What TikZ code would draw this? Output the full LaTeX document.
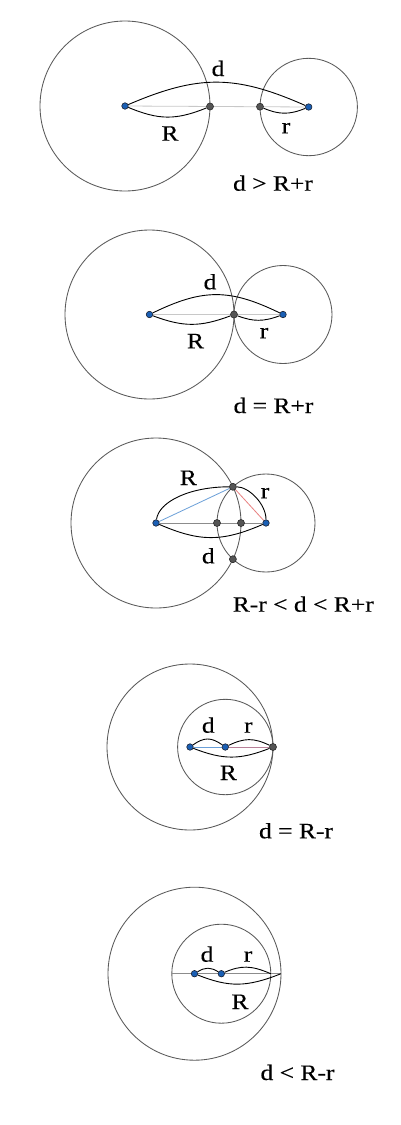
\documentclass[tikz,border=0pt]{standalone}
\usepackage{fontspec}
\setmainfont{Liberation Serif}[FakeStretch=1.16,FakeBold=0.3]
\usetikzlibrary{calc}
\pgfdeclarelayer{bg}
\pgfsetlayers{bg,main}
\definecolor{circgray}{HTML}{5A5A5A}
\definecolor{lightaxis}{HTML}{C8C8C8}
\definecolor{darkaxis}{HTML}{8C8C8C}
\definecolor{blueline}{HTML}{6A9FD8}
\definecolor{redline}{HTML}{E88080}
\definecolor{purpleline}{HTML}{B88098}
\definecolor{dotblue}{HTML}{1A5FB4}
\definecolor{dotblueedge}{HTML}{1A2233}
\definecolor{dotgray}{HTML}{555555}
\definecolor{dotgrayedge}{HTML}{2A2A2A}
\tikzset{
  circ/.style={draw=circgray, line width=0.85pt},
  arcline/.style={draw=black, line width=0.9pt},
  lightax/.style={draw=lightaxis, line width=0.8pt},
  darkax/.style={draw=darkaxis, line width=0.8pt},
  bdot/.style={circle, fill=dotblue, draw=dotblueedge, line width=0.6pt, inner sep=0pt, minimum size=6.5pt},
  gdot/.style={circle, fill=dotgray, draw=dotgrayedge, line width=0.6pt, inner sep=0pt, minimum size=7pt},
  lbl/.style={anchor=base, inner sep=0pt, font=\fontsize{22}{26}\selectfont},
  bumpto/.style n args={4}{insert path={.. controls ($(#1)!0.4!(#2)!#3!#4:(#2)$) and ($(#1)!0.6!(#2)!#3!#4:(#2)$) .. (#2)}},
}
\begin{document}
\begin{tikzpicture}[x=1pt,y=-1pt]
\begin{pgfonlayer}{bg}
\useasboundingbox[fill=white] (0,0) rectangle (401,1125);
\end{pgfonlayer}

% ---------- Panel 1: d > R+r
\node[bdot] (c11) at (125,106) {};
\node[bdot] (c12) at (308.7,107) {};
\node[gdot] (p11) at (210,106.5) {};
\node[gdot] (p12) at (260,106.7) {};
\begin{pgfonlayer}{bg}
\draw[circ] (c11.center) circle[radius=85pt];
\draw[circ] (c12.center) circle[radius=48.7pt];
\draw[lightax] (c11) -- (c12);
\draw[arcline] (c11) [bumpto={c11}{c12}{32pt}{90}];
\draw[arcline] (c11) [bumpto={c11}{p11}{14pt}{-90}];
\draw[arcline] (p12) [bumpto={p12}{c12}{8pt}{-90}];
\end{pgfonlayer}
\node[lbl] (l1d) at (218,76) {d};
\node[lbl] (l1R) at (170,140.7) {R};
\node[lbl] (l1r) at (286,133.3) {r};
\node[lbl] (l1) at (273,190.7) {d > R+r};

% ---------- Panel 2: d = R+r
\node[bdot] (c21) at (149.5,314.5) {};
\node[bdot] (c22) at (283,314.5) {};
\node[gdot] (t2) at (234,314.5) {};
\begin{pgfonlayer}{bg}
\draw[circ] (c21.center) circle[radius=84.5pt];
\draw[circ] (c22.center) circle[radius=49pt];
\draw[lightax] (c21) -- (c22);
\draw[arcline] (c21) [bumpto={c21}{c22}{26pt}{90}];
\draw[arcline] (c21) [bumpto={c21}{t2}{12.7pt}{-90}];
\draw[arcline] (t2) [bumpto={t2}{c22}{7.3pt}{-90}];
\end{pgfonlayer}
\node[lbl] (l2d) at (210,289.3) {d};
\node[lbl] (l2R) at (195.5,348.3) {R};
\node[lbl] (l2r) at (264,338.3) {r};
\node[lbl] (l2) at (273.5,413) {d = R+r};

% ---------- Panel 3: R-r < d < R+r
\node[bdot] (c31) at (156,523) {};
\node[bdot] (c32) at (266,523) {};
\node[gdot] (pt3) at (232.9,486.8) {};
\node[gdot] (pb3) at (232.9,559.2) {};
\node[gdot] (q31) at (217,523) {};
\node[gdot] (q32) at (241,523) {};
\begin{pgfonlayer}{bg}
\draw[circ] (c31.center) circle[radius=85pt];
\draw[circ] (c32.center) circle[radius=49pt];
\draw[darkax] (c31) -- (c32);
\draw[draw=blueline, line width=0.8pt] (c31) -- (pt3);
\draw[draw=redline, line width=0.8pt] (pt3) -- (c32);
\draw[arcline] (c31) .. controls ($(c31)+(3,-22)$) and ($(pt3)+(-42,0)$) .. (pt3);
\draw[arcline] (pt3) .. controls ($(pt3)+(16,0)$) and ($(c32)+(0,-19)$) .. (c32);
\draw[arcline] (c31) [bumpto={c31}{c32}{19pt}{-90}];
\end{pgfonlayer}
\node[lbl] (l3R) at (188.3,485) {R};
\node[lbl] (l3r) at (265,498.3) {r};
\node[lbl] (l3d) at (208.3,563.3) {d};
\node[lbl] (l3) at (303.3,611.7) {R-r < d < R+r};

% ---------- Panel 4: d = R-r
\node[bdot] (c41) at (190,747) {};
\node[bdot] (c42) at (225.3,747) {};
\node[gdot] (t4) at (273,747) {};
\begin{pgfonlayer}{bg}
\draw[circ] (c41.center) circle[radius=83pt];
\draw[circ] (c42.center) circle[radius=47.7pt];
\draw[draw=blueline, line width=0.9pt] (c41) -- (c42);
\draw[draw=purpleline, line width=0.9pt] (c42) -- (t4);
\draw[arcline] (c41) [bumpto={c41}{c42}{10pt}{90}];
\draw[arcline] (c42) [bumpto={c42}{t4}{9.3pt}{90}];
\draw[arcline] (c41) [bumpto={c41}{t4}{13pt}{-90}];
\end{pgfonlayer}
\node[lbl] (l4d) at (208.3,732.7) {d};
\node[lbl] (l4r) at (248.3,732.7) {r};
\node[lbl] (l4R) at (228.3,780) {R};
\node[lbl] (l4) at (296,838.3) {d = R-r};

% ---------- Panel 5: d < R-r
\node[bdot] (c51) at (194.5,973.7) {};
\node[bdot] (c52) at (221.3,973.7) {};
\coordinate (s5l) at (171.8,973.7);
\coordinate (s5r) at (270.8,973.7);
\coordinate (e5) at (281,973.7);
\begin{pgfonlayer}{bg}
\draw[circ] (c51.center) circle[radius=86.5pt];
\draw[circ] (c52.center) circle[radius=49.5pt];
\draw[darkax] (s5l) -- (e5);
\draw[arcline] (c51) [bumpto={c51}{c52}{6.7pt}{90}];
\draw[arcline] (c52) [bumpto={c52}{s5r}{8.5pt}{90}];
\draw[arcline] (c51) [bumpto={c51}{e5}{13.7pt}{-90}];
\end{pgfonlayer}
\node[lbl] (l5d) at (207,961.7) {d};
\node[lbl] (l5r) at (248,961.7) {r};
\node[lbl] (l5R) at (240,1009) {R};
\node[lbl] (l5) at (297.5,1080) {d < R-r};
\end{tikzpicture}
\end{document}
